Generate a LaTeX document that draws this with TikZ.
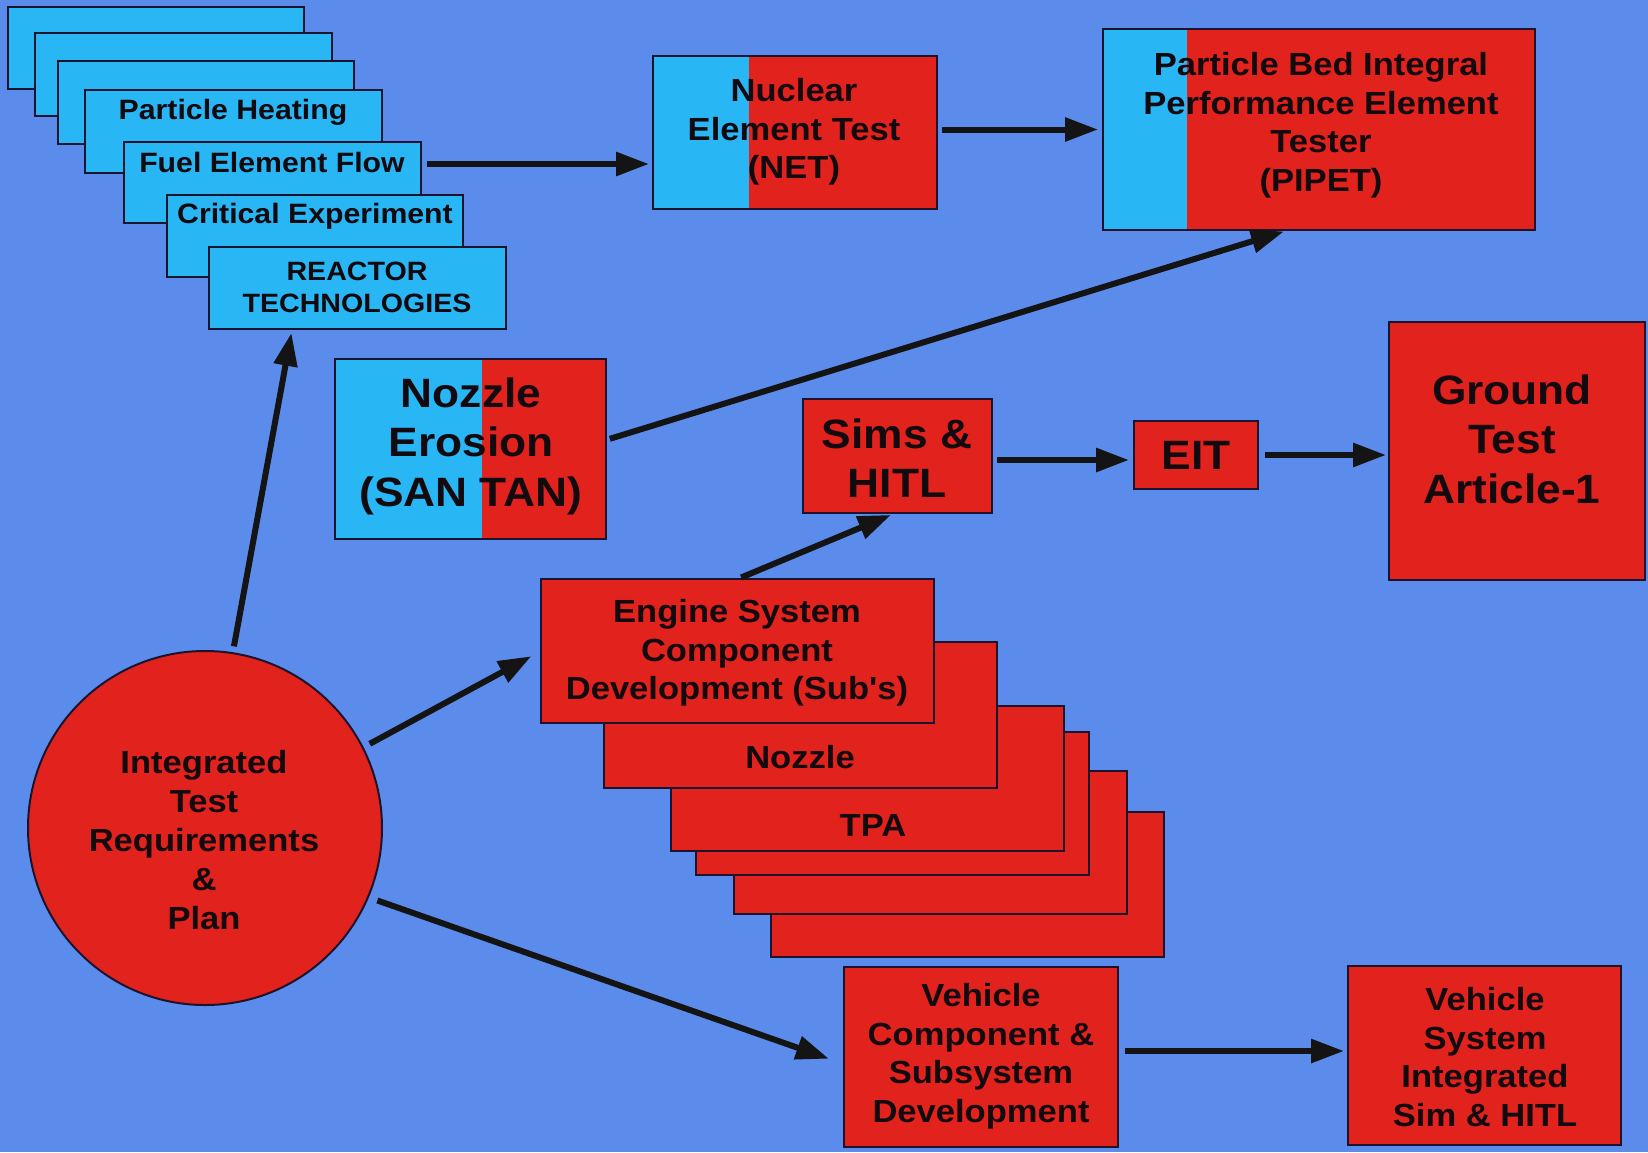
\documentclass[tikz,border=0pt]{standalone}
\usepackage{fontspec}
\newfontfamily\hv{Liberation Sans}[FakeStretch=1.08]
\usetikzlibrary{arrows.meta,calc}
\definecolor{bgc}{RGB}{92,140,235}
\definecolor{cyc}{RGB}{40,182,245}
\definecolor{rdc}{RGB}{226,34,28}
\definecolor{bdc}{RGB}{28,20,45}
\definecolor{txc}{RGB}{18,10,14}
\newcommand\mkbox[6]{\node[#1,minimum width={(#5-#3)*0.5pt},minimum height={(#6-#4)*0.5pt}] (#2) at ({(#3+#5)/2},{(#4+#6)/2}) {};}
\begin{document}
\begin{tikzpicture}[x=0.5pt,y=-0.5pt,
  bx/.style={draw=bdc,line width=1pt,inner sep=0pt,outer sep=0pt,rectangle},
  redbox/.style={bx,fill=rdc},
  cybox/.style={bx,fill=cyc},
  splitbox/.style={bx,fill=rdc,path picture={\fill[cyc] (path picture bounding box.south west) rectangle ([xshift=#1]path picture bounding box.north west);}},
  txt/.style={text=txc,align=center,inner sep=0pt,outer sep=0pt},
  ts/.style={txt,font=\hv\bfseries\fontsize{14pt}{16pt}\selectfont},
  tr/.style={txt,font=\hv\bfseries\fontsize{13.25pt}{16pt}\selectfont},
  tm/.style={txt,font=\hv\bfseries\fontsize{16pt}{19.25pt}\selectfont},
  tc/.style={txt,font=\hv\bfseries\fontsize{16pt}{19.6pt}\selectfont},
  tb/.style={txt,font=\hv\bfseries\fontsize{20.5pt}{24.75pt}\selectfont},
  arr/.style={line width=3pt,draw=black!92,-{Triangle[length=16.5pt,width=11.5pt]}},
]
\path[use as bounding box,fill=bgc] (0,0) rectangle (1648,1152);

% reactor technology stack
\mkbox{cybox}{s1}{8}{7}{304}{89}
\mkbox{cybox}{s2}{35}{33}{332}{116}
\mkbox{cybox}{s3}{58}{61}{354}{144}
\mkbox{cybox}{s4}{85}{90}{382}{173}
\mkbox{cybox}{s5}{124}{142}{421}{223}
\mkbox{cybox}{s6}{167}{195}{463}{277}
\mkbox{cybox}{s7}{209}{247}{506}{329}
\node[ts,anchor=base] (s4T) at (233,119) {Particle Heating};
\node[ts,anchor=base] (s5T) at (272,172) {Fuel Element Flow};
\node[ts,anchor=base] (s6T) at (315,223) {Critical Experiment};
\node[tr] (s7T) at (357,287) {REACTOR\\TECHNOLOGIES};

% NET and PIPET
\mkbox{splitbox=48pt}{net}{653}{56}{937}{209}
\node[tm] (netT) at (794,132) {Nuclear\\Element Test\\(NET)};
\mkbox{splitbox=42pt}{pipet}{1103}{29}{1535}{230}
\node[tm] (pipetT) at (1321,125) {Particle Bed Integral\\Performance Element\\Tester\\(PIPET)};

% Nozzle erosion
\mkbox{splitbox=73.5pt}{noz}{335}{359}{606}{539}
\node[tb] (nozT) at (471,446) {Nozzle\\Erosion\\(SAN TAN)};

% Sims, EIT, Ground test
\mkbox{redbox}{sims}{803}{399}{992}{513}
\node[tb] (simsT) at (897,458) {Sims \&\\HITL};
\mkbox{redbox}{eit}{1134}{421}{1258}{489}
\node[tb] (eitT) at (1196,455) {EIT};
\mkbox{redbox}{gta}{1389}{322}{1645}{580}
\node[tb] (gtaT) at (1512,439) {Ground\\Test\\Article-1};

% engine component stack
\mkbox{redbox}{e6}{771}{812}{1164}{957}
\mkbox{redbox}{e5}{734}{771}{1127}{914}
\mkbox{redbox}{e4}{696}{732}{1089}{875}
\mkbox{redbox}{tpa}{671}{706}{1064}{851}
\mkbox{redbox}{nzl}{604}{642}{997}{788}
\mkbox{redbox}{eng}{541}{579}{934}{723}
\node[tm] (engT) at (737,653) {Engine System\\Component\\Development (Sub's)};
\node[tm,anchor=base] (nzlT) at (800,768) {Nozzle};
\node[tm,anchor=base] (tpaT) at (873,836) {TPA};

% circle
\node[circle,draw=bdc,line width=1pt,fill=rdc,minimum size=354*0.5pt,inner sep=0pt,outer sep=0pt] (circ) at (205,828) {};
\node[tc] (circT) at (204,840) {Integrated\\Test\\Requirements\\\&\\Plan};

% vehicle boxes
\mkbox{redbox}{vc}{844}{967}{1118}{1147}
\node[tm] (vcT) at (981,1056) {Vehicle\\Component \&\\Subsystem\\Development};
\mkbox{redbox}{vs}{1348}{966}{1621}{1145}
\node[tm] (vsT) at (1485,1057) {Vehicle\\System\\Integrated\\Sim \& HITL};

% connectors
\draw[arr,shorten <=3pt,shorten >=2pt] ([yshift=9.25pt]s5.east) -- ([yshift=9.25pt]s5.east -| net.west);
\draw[arr,shorten <=2.5pt,shorten >=2.5pt] (pipet.west -| net.east) -- (pipet.west);
\draw[arr,shorten <=2pt,shorten >=2.5pt] ([yshift=4.5pt]noz.east) -- ($(pipet.south west)!0.43!(pipet.south east)$);
\draw[arr,shorten <=3.5pt,shorten >=2pt] (circ.81) -- ($(s7.south west)!0.28!(s7.south east)$);
\draw[arr,shorten <=4pt,shorten >=5.5pt] (circ.27) -- (eng.west);
\draw[arr,shorten <=5pt,shorten >=8pt] (circ.-23.5) -- ([yshift=-3.5pt]vc.west);
\draw[arr,shorten <=2pt,shorten >=2.5pt] (eng.north) -- ($(sims.south west)!0.49!(sims.south east)$);
\draw[arr,shorten <=2.5pt,shorten >=2.5pt] ([yshift=-2pt]sims.east) -- ([yshift=-2pt]sims.east -| eit.west);
\draw[arr,shorten <=3.5pt,shorten >=1.5pt] (eit.east) -- (eit.east -| gta.west);
\draw[arr,shorten <=3.5pt,shorten >=2pt] ([yshift=3pt]vc.east) -- ([yshift=3pt]vc.east -| vs.west);
\end{tikzpicture}
\end{document}
